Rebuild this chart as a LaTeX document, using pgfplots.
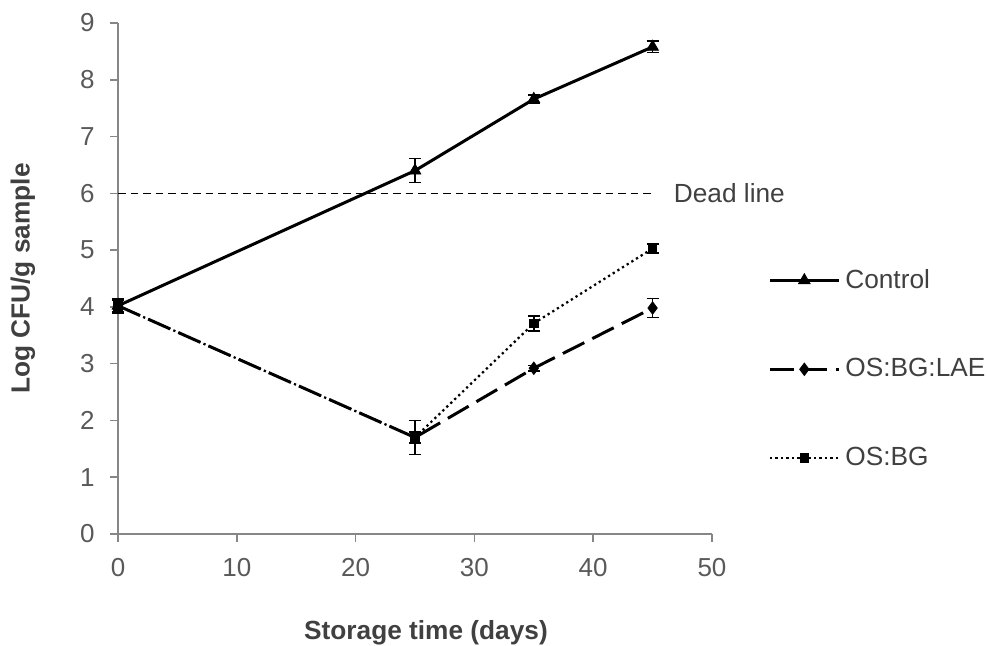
\documentclass[border=0pt]{standalone}
\usepackage{fontspec}
\setmainfont{Liberation Sans}
\usepackage{pgfplots}
\pgfplotsset{compat=1.18}
\definecolor{axisgray}{RGB}{134,134,134}
\definecolor{ticktext}{RGB}{89,89,89}
\definecolor{labeltext}{RGB}{64,64,64}

\begin{document}
\begin{tikzpicture}
% 1 px of the reference = 0.4pt
\useasboundingbox (-47.2pt,-44.4pt) rectangle (348pt,213.6pt);
\begin{axis}[
    scale only axis,
    width=237.6pt, height=204.4pt,
    xmin=0, xmax=50, ymin=0, ymax=9,
    xtick={0,10,...,50}, ytick={0,1,...,9},
    axis lines=left,
    axis line style={axisgray, line width=0.6pt, -},
    tick style={axisgray, line width=0.6pt},
    tick align=outside, major tick length=3.2pt,
    /pgf/number format/assume math mode=true,
    tick label style={ticktext, font=\fontsize{10.4}{12}\selectfont},
    xticklabel style={yshift=-3pt},
    yticklabel style={xshift=-2.6pt},
    xlabel={Storage time (days)},
    ylabel={Log CFU/g sample},
    label style={labeltext, font=\bfseries\fontsize{10.5}{12}\selectfont},
    xlabel style={at={(axis description cs:0.5185,-0.194)}, anchor=center},
    ylabel style={at={(axis description cs:-0.16,0.5)}, anchor=center},
    clip=false,
    legend style={draw=none, fill=none, inner sep=0pt,
        at={(axis description cs:1.094,0.323)}, anchor=west,
        row sep=22.6pt, text=labeltext,
        font=\fontsize{10.5}{12}\selectfont},
    legend cell align=left,
    legend image code/.code={%
        \draw[mark repeat=2,mark phase=2,#1]
            plot coordinates {(0pt,0pt) (13.8pt,0pt) (27.6pt,0pt)};},
    error bars/error bar style={black, line width=0.6pt, solid},
    error bars/error mark options={rotate=90, mark size=2.4pt, black, line width=0.6pt, solid},
]

% dead line
\addplot[black, line width=0.6pt, dash pattern=on 3pt off 2pt, forget plot]
    coordinates {(0,6) (45,6)};
\node[anchor=west, text=labeltext, font=\fontsize{10.5}{12}\selectfont, xshift=5pt]
    at (axis cs:45,6) {Dead line};

\addplot[black, line width=1.2pt, mark=triangle*, mark size=2.7pt,
         mark options={solid, fill=black, line width=0.3pt},
         error bars/.cd, y dir=both, y explicit]
    coordinates {
    (0,4.02) +- (0,0.13)
    (25,6.40) +- (0,0.21)
    (35,7.66) +- (0,0.07)
    (45,8.58) +- (0,0.10)
    };
\addlegendentry{Control}

\addplot[black, line width=1.2pt, dash pattern=on 9.6pt off 3.6pt,
         mark=diamond*, mark size=2.5pt,
         mark options={solid, fill=black, line width=0.3pt},
         error bars/.cd, y dir=both, y explicit]
    coordinates {
    (0,4.02) +- (0,0.13)
    (25,1.70) +- (0,0.10)
    (35,2.92) +- (0,0.05)
    (45,3.98) +- (0,0.17)
    };
\addlegendentry{OS:BG:LAE}

\addplot[black, line width=0.9pt, dash pattern=on 0.9pt off 1.3pt,
         mark=square*, mark size=1.7pt,
         mark options={solid, fill=black, line width=0.3pt},
         error bars/.cd, y dir=both, y explicit]
    coordinates {
    (0,4.02) +- (0,0.10)
    (25,1.70) +- (0,0.30)
    (35,3.71) +- (0,0.13)
    (45,5.03) +- (0,0.08)
    };
\addlegendentry{OS:BG}

\end{axis}
\end{tikzpicture}
\end{document}
